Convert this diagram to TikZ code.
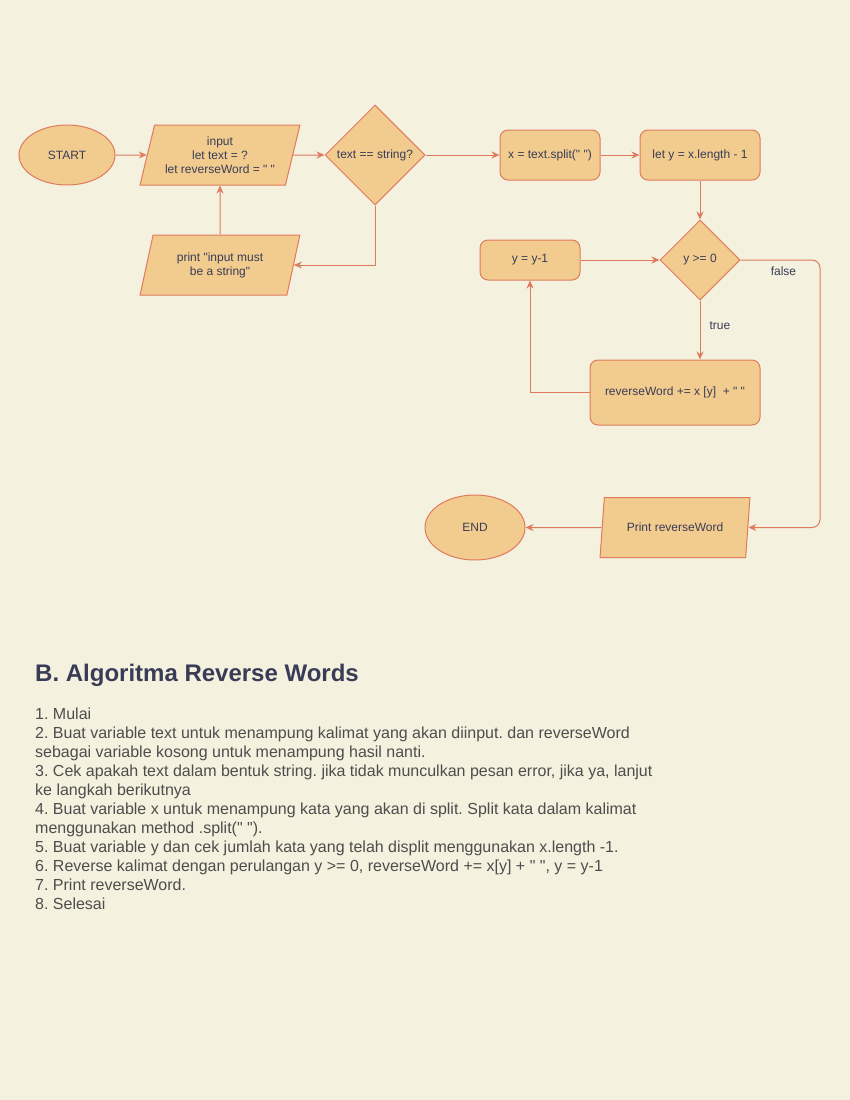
\documentclass[tikz,border=0pt]{standalone}
\usepackage{fontspec}
\setmainfont{Liberation Sans}[Ligatures=TeXOff]
\usetikzlibrary{shapes.geometric,arrows.meta}
\definecolor{bg}{HTML}{F4F1DE}
\definecolor{fillc}{HTML}{F2CC8F}
\definecolor{strokec}{HTML}{E07A5F}
\definecolor{txt}{HTML}{393C56}
\definecolor{body}{HTML}{4D4D4D}
\frenchspacing
\begin{document}
\begin{tikzpicture}[x=1pt,y=-1pt,
 base/.style={draw=strokec, fill=fillc, line width=1pt, text=txt, font=\fontsize{12}{14}\selectfont, inner sep=0pt, align=center},
 term/.style={base, ellipse, minimum width=96pt, minimum height=60pt},
 proc/.style={base, rectangle, rounded corners=8pt},
 io/.style={base, trapezium, trapezium left angle=71.57, trapezium right angle=108.43, trapezium stretches=true, minimum width=160pt, minimum height=60pt},
 dec/.style={base, diamond, aspect=1},
 arr/.style={draw=strokec, line width=1pt, -{Stealth[length=8pt,width=7pt]}},
 lbl/.style={text=txt, font=\fontsize{12}{14}\selectfont, inner sep=0pt}]
\fill[bg] (0,0) rectangle (850,1100);
\path[use as bounding box] (0,0) rectangle (850,1100);

\node[term] (start) at (67,155) {START};
\node[io] (in) at (220,155) {input\\let text = ?\\let reverseWord = " "};
\node[dec, minimum width=100pt, minimum height=100pt, label={[lbl]center:text == string?}] (d1) at (375,155) {};
\node[proc, minimum width=100pt, minimum height=50pt] (split) at (550,155) {x = text.split(" ")};
\node[proc, minimum width=120pt, minimum height=50pt] (len) at (700,155) {let y = x.length - 1};
\node[dec, minimum width=80pt, minimum height=80pt, label={[lbl]center:y >= 0}] (d2) at (700,260) {};
\node[proc, minimum width=100pt, minimum height=40pt] (dec1) at (530,260) {y = y-1};
\node[proc, minimum width=170pt, minimum height=65pt] (rw) at (675,392.5) {reverseWord += x [y]\ \ + " "};
\node[io] (err) at (220,265) {print "input must\\be a string"};
\node[io, minimum width=150pt] (pr) at (675,527.5) {Print reverseWord};
\node[term, minimum width=100pt, minimum height=65pt] (end) at (475,527.5) {END};
\coordinate (c1) at (820,260);

\draw[arr] (start) -- (in);
\draw[arr] (in) -- (d1);
\draw[arr] (d1) -- (split);
\draw[arr] (split) -- (len);
\draw[arr] (len) -- (d2);
\draw[arr] (d1.south) |- (err);
\draw[arr] (err) -- (in);
\draw[arr] (d2.south) -- node[lbl, pos=0.43, anchor=west, xshift=9pt] {true} (d2.south |- rw.north);
\draw[arr] (rw.west) -| (dec1);
\draw[arr] (dec1) -- (d2);
\draw[arr, rounded corners=8pt] (d2.east) -- node[lbl, pos=0.54, anchor=north, yshift=-6pt] {false} (c1) |- (pr);
\draw[arr] (pr) -- (end);

\node[anchor=west, text=txt, font=\bfseries\fontsize{24}{28}\selectfont, inner sep=0pt] (title) at (35,675) {B. Algoritma Reverse Words};
\node[anchor=north west, align=left, text=body, font=\fontsize{16}{19}\selectfont, inner sep=0pt] (list) at (35,708) {1. Mulai\\
2. Buat variable text untuk menampung kalimat yang akan diinput. dan reverseWord\\
sebagai variable kosong untuk menampung hasil nanti.\\
3. Cek apakah text dalam bentuk string. jika tidak munculkan pesan error, jika ya, lanjut\\
ke langkah berikutnya\\
4. Buat variable x untuk menampung kata yang akan di split. Split kata dalam kalimat\\
menggunakan method .split(" ").\\
5. Buat variable y dan cek jumlah kata yang telah displit menggunakan x.length -1.\\
6. Reverse kalimat dengan perulangan y >= 0, reverseWord += x[y] + " ", y = y-1\\
7. Print reverseWord.\\
8. Selesai};
\end{tikzpicture}
\end{document}
